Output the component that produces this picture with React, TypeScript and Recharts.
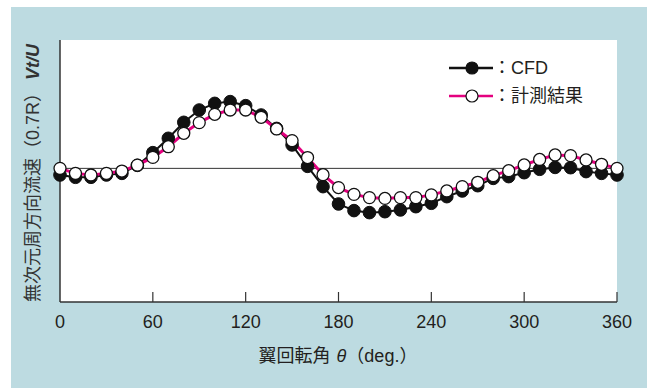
import React from 'react';
import { LineChart, Line, XAxis, YAxis, CartesianGrid, ReferenceLine, Legend, Label } from 'recharts';

const angles = [0, 10, 20, 30, 40, 50, 60, 70, 80, 90, 100, 110, 120, 130, 140, 150, 160, 170, 180, 190, 200, 210, 220, 230, 240, 250, 260, 270, 280, 290, 300, 310, 320, 330, 340, 350, 360];

const cfdValues = [-0.049, -0.066, -0.066, -0.049, -0.037, 0.022, 0.116, 0.222, 0.340, 0.431, 0.480, 0.493, 0.463, 0.394, 0.295, 0.173, 0.015, -0.135, -0.263, -0.312, -0.327, -0.320, -0.307, -0.283, -0.258, -0.209, -0.167, -0.128, -0.074, -0.061, -0.032, -0.007, 0.007, 0.005, -0.024, -0.037, -0.049];

const measuredValues = [0, -0.037, -0.049, -0.037, -0.020, 0.024, 0.081, 0.160, 0.259, 0.338, 0.399, 0.431, 0.431, 0.377, 0.291, 0.205, 0.080, -0.047, -0.142, -0.192, -0.216, -0.222, -0.216, -0.216, -0.196, -0.167, -0.135, -0.103, -0.054, -0.017, 0.025, 0.066, 0.099, 0.094, 0.062, 0.030, 0];

const xTicks = [0, 60, 120, 180, 240, 300, 360];
const cfdName = 'CFD';
const measuredName = '計測結果';
const xTitle = '翼回転角';
const xTitleSymbol = 'θ';
const xTitleUnit = '（deg.）';
const yTitle = '無次元周方向流速（0.7R）';
const yTitleSymbol = 'Vt/U';

const data = angles.map((a, i) => ({ angle: a, cfd: cfdValues[i], measured: measuredValues[i] }));

const LATIN = '"Liberation Sans", Arial, "Noto Sans CJK JP", sans-serif';
const CJK = '"Liberation Sans", "Noto Sans CJK JP", sans-serif';
const TEXT = '#231f20';
const MAGENTA = '#e4007f';

const AxisTick = (props: any) => {
  const { x, y, payload } = props;
  return (
    <g>
      {payload.value !== 0 && (
        <line x1={x} x2={x} y1={y} y2={y - 10} stroke="#333" strokeWidth={1.2} />
      )}
      <text x={x} y={y + 25.5} textAnchor="middle" fontSize={18} fill={TEXT} fontFamily={LATIN}>
        {payload.value}
      </text>
    </g>
  );
};

const XTitle = () => (
  <text x={338} y={362} textAnchor="middle" fontSize={18} fill={TEXT} fontFamily={CJK}>
    {xTitle}
    <tspan dx={6} fontStyle="italic" fontFamily={LATIN}>{xTitleSymbol}</tspan>
    <tspan>{xTitleUnit}</tspan>
  </text>
);

const YTitle = () => (
  <text
    x={33}
    y={173}
    transform="rotate(-90, 33, 173)"
    textAnchor="middle"
    dominantBaseline="central"
    fontSize={18}
    fill="#333"
    fontFamily={CJK}
  >
    {yTitle}
    <tspan dx={4} fontStyle="italic" fontWeight="bold" fontFamily={LATIN}>{yTitleSymbol}</tspan>
  </text>
);

const LegendContent = () => {
  const items = [
    { name: cfdName, line: '#111', fill: '#111' },
    { name: measuredName, line: MAGENTA, fill: '#fff' },
  ];
  return (
    <div style={{ display: 'flex', flexDirection: 'column' }}>
      {items.map((it) => (
        <div key={it.name} style={{ display: 'flex', alignItems: 'center', height: 28 }}>
          <svg width={44} height={16} style={{ display: 'block' }}>
            <line x1={0} x2={44} y1={8} y2={8} stroke={it.line} strokeWidth={2.5} />
            <circle cx={23} cy={8} r={6} fill={it.fill} stroke="#111" strokeWidth={1.2} />
          </svg>
          <span style={{ fontFamily: CJK, fontSize: 18, color: TEXT, lineHeight: '18px', whiteSpace: 'nowrap' }}>
            ：{it.name}
          </span>
        </div>
      ))}
    </div>
  );
};

export default function App() {
  return (
    <div style={{ position: 'absolute', left: 0, top: 0, width: 654, height: 388, background: '#fff', overflow: 'hidden' }}>
      <div style={{ position: 'absolute', left: 11, top: 7, width: 636, height: 381, background: '#bddbe1' }} />
      <div style={{ position: 'absolute', left: 0, top: 0 }}>
        <LineChart width={654} height={388} data={data} margin={{ top: 40, right: 37, left: 59, bottom: 0 }}>
          <CartesianGrid fill="#fff" horizontal={false} vertical={false} stroke="none" />
          <XAxis
            dataKey="angle"
            type="number"
            domain={[0, 360]}
            ticks={xTicks}
            interval={0}
            height={86}
            tickSize={0}
            tickMargin={0}
            tickLine={false}
            tick={<AxisTick />}
            axisLine={{ stroke: '#333', strokeWidth: 1.5 }}
          >
            <Label content={<XTitle />} />
          </XAxis>
          <YAxis
            type="number"
            domain={[-0.987, 0.948]}
            width={1}
            tick={false}
            tickLine={false}
            axisLine={{ stroke: '#333', strokeWidth: 1.5 }}
          >
            <Label content={<YTitle />} />
          </YAxis>
          <ReferenceLine y={0} stroke="#333" strokeWidth={1} />
          <Legend
            layout="vertical"
            align="center"
            verticalAlign="middle"
            content={<LegendContent />}
            wrapperStyle={{ position: 'absolute', left: 449, top: 54, width: 'auto', height: 'auto' }}
          />
          <Line
            type="linear"
            dataKey="cfd"
            name={cfdName}
            stroke="#111"
            strokeWidth={2}
            dot={{ r: 6.3, fill: '#111', stroke: '#111', strokeWidth: 1 }}
            isAnimationActive={false}
          />
          <Line
            type="linear"
            dataKey="measured"
            name={measuredName}
            stroke={MAGENTA}
            strokeWidth={3}
            dot={{ r: 6, fill: '#fff', stroke: '#111', strokeWidth: 1.3 }}
            isAnimationActive={false}
          />
        </LineChart>
      </div>
    </div>
  );
}
